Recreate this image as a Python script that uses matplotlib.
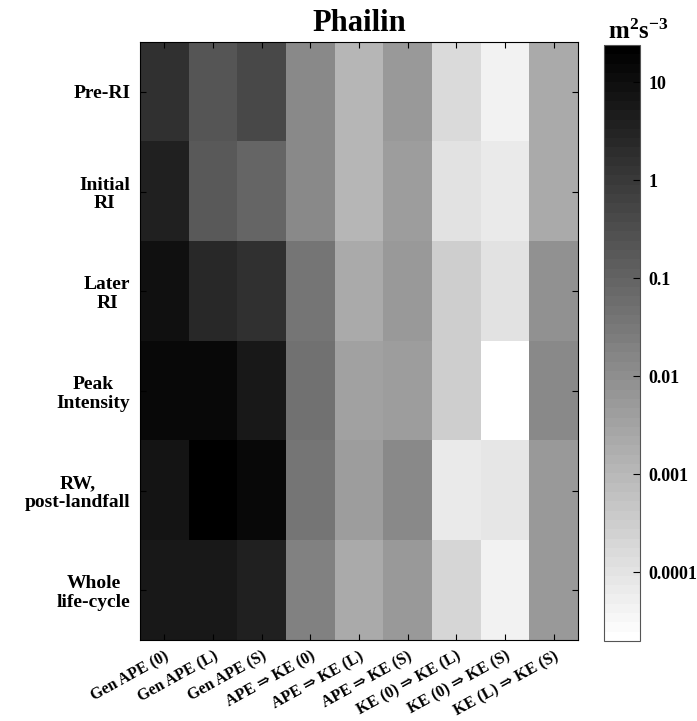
import numpy as np
import matplotlib
matplotlib.use('Agg')
import matplotlib.pyplot as plt
from matplotlib.colors import LogNorm

plt.rcParams['font.family'] = ['Liberation Serif', 'DejaVu Serif']
plt.rcParams['font.weight'] = 'bold'
plt.rcParams['mathtext.fontset'] = 'custom'
plt.rcParams['mathtext.rm'] = 'Liberation Serif:bold'
plt.rcParams['mathtext.bf'] = 'Liberation Serif:bold'

# stages (rows) and energy terms (columns)
stages = ['Pre-RI', 'Initial\nRI', 'Later\nRI', 'Peak\nIntensity',
          'RW,\npost-landfall', 'Whole\nlife-cycle']
terms = ['Gen APE (0)', 'Gen APE (L)', 'Gen APE (S)',
         'APE \u21d2 KE (0)', 'APE \u21d2 KE (L)', 'APE \u21d2 KE (S)',
         'KE (0) \u21d2 KE (L)', 'KE (0) \u21d2 KE (S)', 'KE (L) \u21d2 KE (S)']

# values in m^2 s^-3
pre_ri = [1.46, 0.226, 0.41, 0.0138, 0.00117, 0.0057, 0.000154, 4.1e-5, 0.00214]
initial_ri = [3.7, 0.172, 0.089, 0.0138, 0.00117, 0.0046, 0.0001, 7.2e-5, 0.00214]
later_ri = [9.4, 2.66, 1.46, 0.035, 0.00214, 0.0054, 0.00033, 0.000111, 0.0089]
peak = [13.8, 13.8, 5.7, 0.051, 0.0037, 0.0046, 0.00033, 1.5e-5, 0.0138]
rw_landfall = [7.5, 30.0, 13.8, 0.035, 0.0046, 0.0138, 6.4e-5, 8.5e-5, 0.0054]
whole = [6.4, 6.4, 3.7, 0.0214, 0.00214, 0.0054, 0.00019, 4.6e-5, 0.0054]

vmin = 2e-5
vmax = 24

data = np.array([pre_ri, initial_ri, later_ri, peak, rw_landfall, whole])

fig = plt.figure(figsize=(6.97, 7.21), dpi=100)
ax = fig.add_axes([140/697, 1-640/721, 438/697, 598/721])
cmap = plt.get_cmap('gray_r', 64)
im = ax.imshow(data, cmap=cmap, norm=LogNorm(vmin=vmin, vmax=vmax),
               aspect='auto', interpolation='nearest')

ax.set_xticks(np.arange(len(terms)))
ax.set_xticklabels(terms, rotation=29, ha='right', rotation_mode='anchor',
                   fontsize=11.5, fontweight='bold')
ax.set_yticks(np.arange(len(stages)))
ax.set_yticklabels(stages, fontsize=14, fontweight='bold', multialignment='center',
                   linespacing=1.15)
ax.tick_params(direction='in', length=4, width=0.8, top=True, right=True)
ax.tick_params(axis='y', pad=7)
ax.tick_params(axis='x', pad=6)
ax.set_title('Phailin', fontsize=22, fontweight='bold', pad=8)

cax = fig.add_axes([604/697, 1-641/721, 36/697, 596/721])
cb = fig.colorbar(im, cax=cax)
cb.set_ticks([1e-4, 1e-3, 1e-2, 1e-1, 1, 10])
cb.set_ticklabels(['0.0001', '0.001', '0.01', '0.1', '1', '10'])
cb.ax.tick_params(direction='in', length=5, width=0.8, labelsize=13, pad=6)
cb.ax.minorticks_off()
for t in cb.ax.get_yticklabels():
    t.set_fontweight('bold')
cb.outline.set_edgecolor('#555555')

fig.text(638/697, 1-39/721, r'$\mathrm{m^{2}s^{-3}}$', fontsize=18,
         ha='center', va='baseline')

fig.savefig('out.png', dpi=100)
